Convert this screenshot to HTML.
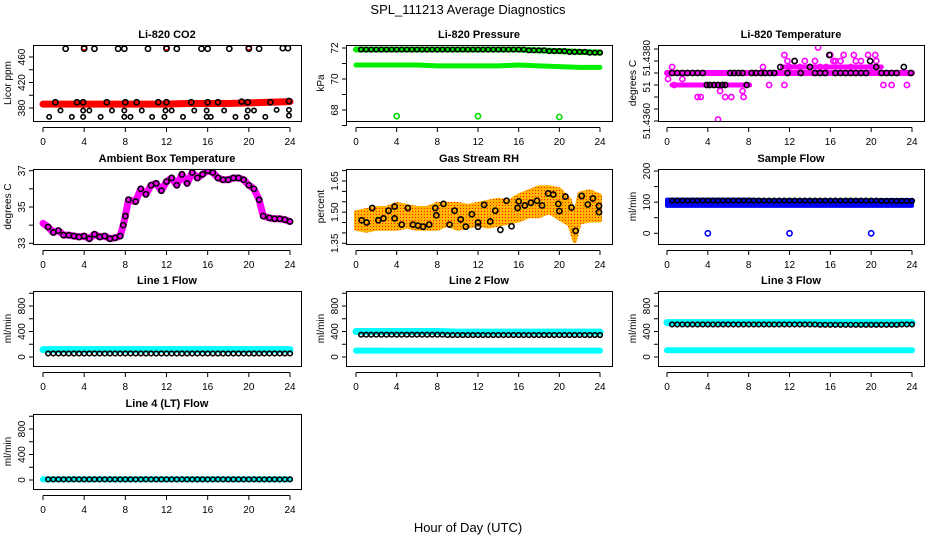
<!DOCTYPE html>
<html><head><meta charset="utf-8"><style>
html,body{margin:0;padding:0;background:#fff}
svg{display:block;font-family:"Liberation Sans",sans-serif}
</style></head><body>
<svg id="chart" width="936" height="540" viewBox="0 0 936 540" xmlns="http://www.w3.org/2000/svg">
<defs>
<pattern id="rhpat" width="3" height="3" patternUnits="userSpaceOnUse"><rect width="3" height="3" fill="#ffb400"/><rect x="1" y="1" width="1" height="1" fill="#ff2000"/></pattern>
</defs>
<text x="468" y="14" text-anchor="middle" font-size="13">SPL_111213  Average Diagnostics</text>
<text x="468" y="532" text-anchor="middle" font-size="13">Hour of Day (UTC)</text>
</svg>
<script>
// ---------- data ----------
const halfHours = [0.5,1,1.5,2,2.5,3,3.5,4,4.5,5,5.5,6,6.5,7,7.5,8,8.5,9,9.5,10,10.5,11,11.5,12,12.5,13,13.5,14,14.5,15,15.5,16,16.5,17,17.5,18,18.5,19,19.5,20,20.5,21,21.5,22,22.5,23,23.5,24];
const bandHours = [0,2,4,6,8,10,12,14,16,18,20,22,24];
const xTicks = [0,4,8,12,16,20,24];

// CO2
const co2Band = [386,386,386,386,386,386,386,387,387,387,388,389,390];
const co2TopT = [2.2,4,5,7.3,7.9,10.2,12,13,15.4,16,18.1,20,21,23.3,23.8];
const co2TopV = [473,473,473,473,473,473,473,473,473,473,473,473,473,474,474];
const co2MidT = [1.2,3.3,3.9,6.2,8,9.1,11.2,12,14.4,16,17,19.3,19.9,22.1,23.9];
const co2MidV = [389,389,389,389,389,389,389,389,389,389,389,390,389,389,391];
const co2LowT = [1.7,3.9,4.5,6.7,7.9,9.6,11.9,12.5,14.7,15.9,17.6,19.9,20.5,22.7,23.9,0.6,2.8,3.9,5.6,7.9,8.5,10.6,11.8,13.6,15.9,16.3,18.7,19.8,21.6,23.9];
const co2LowV = [376,376,376,376,376,376,376,376,376,376,376,376,376,377,377,366,366,366,366,366,366,366,366,366,366,366,366,366,366,368];
const co2RedT = [4,12,20];
const co2RedV = [475,475,475];

// Pressure
const presTop = [71.9,71.9,71.9,71.9,71.9,71.9,71.9,71.9,71.9,71.85,71.8,71.75,71.7];
const presLow = [70.9,70.9,70.9,70.9,70.85,70.85,70.85,70.85,70.9,70.85,70.8,70.75,70.75];
const presOutT = [4,12,20];
const presOutV = [67.6,67.6,67.55];

// Li-820 temperature
const tempMain = [51.4376,51.4376,51.4376,51.4376,51.4376,51.4376,51.4376,51.4376,51.4376,51.4376,51.4376,51.4376,51.4376];
const tempPtT = [0.1,0.5,0.7,1.5,3,3.3,5,5.2,5.7,6.3,7.4,7.5,9.4,10,11.5,11.5,12,13.5,14.8,15.6,16,16.3,17.3,18.3,19.7,20.4,21.2,22,23.5,11.8,13,14,15,17,18,19,20,12.5,14.5,16.5,18.5,20.5];
const tempPtV = [51.4374,51.4378,51.4372,51.4374,51.4368,51.4368,51.43605,51.437,51.4368,51.4368,51.437,51.4368,51.4378,51.4372,51.4382,51.4372,51.4378,51.438,51.43845,51.4378,51.4382,51.438,51.4382,51.4382,51.4382,51.4382,51.4372,51.4372,51.4372,51.438,51.4378,51.4378,51.4378,51.438,51.4378,51.438,51.4378,51.438,51.438,51.438,51.438,51.438];
const tempBlkT = [0.5,1,1.5,2,2.5,3,3.5,3.9,4.2,4.6,5,5.4,5.7,6.2,6.6,7,7.4,7.8,8.3,8.7,9.2,9.6,10.1,10.5,11.1,11.8,12.5,13.1,14,14.5,15,15.5,15.9,16.5,17,17.5,18,18.5,19,19.5,19.9,20.5,21,21.5,22,22.5,23.2,23.9];
const tempBlkV = [51.4376,51.4376,51.4376,51.4376,51.4376,51.4376,51.4376,51.4372,51.4372,51.4372,51.4372,51.4372,51.4372,51.4376,51.4376,51.4376,51.4376,51.4372,51.4376,51.4376,51.4376,51.4376,51.4376,51.4376,51.4378,51.4376,51.438,51.4376,51.4378,51.4376,51.4376,51.4376,51.4382,51.4376,51.4376,51.4376,51.4376,51.4376,51.4376,51.4376,51.438,51.4378,51.4376,51.4376,51.4376,51.4376,51.4378,51.4376];

// Ambient box temperature
const ambHours = [0,0.5,1,1.5,2,2.5,3,3.5,4,4.5,5,5.5,6,6.5,7,7.5,7.8,8,8.3,9,9.5,10,10.5,11,11.5,12,12.5,13,13.5,14,14.5,15,15.5,16,16.5,17,17.5,18,18.5,19,19.5,20,20.5,21,21.4,22,22.5,23,23.5,24];
const ambVals = [34.1,33.9,33.6,33.7,33.45,33.45,33.4,33.35,33.4,33.25,33.5,33.35,33.4,33.25,33.3,33.4,34.0,34.5,35.4,35.3,36.0,35.7,36.2,36.3,35.9,36.4,36.6,36.2,36.8,36.3,36.9,36.6,36.8,37.0,36.9,36.6,36.5,36.5,36.6,36.6,36.5,36.2,36.0,35.4,34.5,34.4,34.35,34.35,34.3,34.2];

// Gas stream RH
const rhHours = [0,1,2,3,4,5,6,7,8,9,10,11,12,13,14,15,16,17,18,19,20,21,21.5,22,23,24];
const rhMean = [1.46,1.46,1.47,1.47,1.48,1.48,1.47,1.47,1.48,1.49,1.48,1.48,1.49,1.49,1.5,1.5,1.52,1.54,1.55,1.56,1.54,1.5,1.42,1.52,1.53,1.52];
const rhSpread = [0.04,0.05,0.05,0.05,0.06,0.05,0.05,0.05,0.06,0.05,0.06,0.05,0.05,0.06,0.06,0.05,0.06,0.06,0.07,0.06,0.07,0.06,0.06,0.07,0.07,0.06];
const rhBlkT = [0.56,1.05,1.6,2.2,2.7,3.2,3.8,3.8,4.5,5.1,5.6,6.1,6.6,7.2,7.8,7.9,8.6,9.2,9.7,10.3,10.8,11.4,12,12,12.6,13.2,13.7,14.2,14.8,15.3,15.9,16,16.6,17.2,17.8,18.3,18.9,19.4,19.9,20,20.6,21.2,21.6,22.2,22.8,23.3,23.9,23.9];
const rhBlkV = [1.461,1.45,1.52,1.461,1.47,1.507,1.527,1.47,1.44,1.52,1.44,1.435,1.43,1.44,1.52,1.485,1.54,1.44,1.507,1.465,1.43,1.49,1.45,1.43,1.535,1.455,1.507,1.415,1.555,1.432,1.52,1.552,1.532,1.545,1.555,1.532,1.59,1.585,1.54,1.505,1.575,1.522,1.41,1.578,1.537,1.566,1.53,1.5];

// Sample flow
const sampleLow = [88,88,88,88,88,88,88,88,88,88,88,88,88];
const sampleHigh = [108,108,108,108,108,106,106,106,106,106,106,107,107];
const sampleBlk = [105,105,105,105,105,105,105,105,105,105,105,104,104];
const sampleOutT = [4,12,20];
const sampleOutV = [0,0,0];

// Line flows
const line1Cyan = [115,115,115,115,115,115,115,115,115,115,115,115,115];
const line1Blk = [55,55,55,55,55,55,55,55,55,55,55,55,55];
const line2CyanHi = [400,400,400,400,400,390,390,390,390,390,390,390,390];
const line2CyanLo = [100,100,100,100,100,100,100,100,100,100,100,100,100];
const line2Blk = [350,350,350,350,350,345,345,345,345,345,345,345,345];
const line3CyanHi = [540,540,540,540,540,540,540,540,540,540,540,540,540];
const line3CyanLo = [105,105,105,105,105,105,105,105,105,105,105,105,105];
const line3Blk = [510,510,510,510,510,510,510,510,505,505,505,505,510];
const line4Cyan = [10,10,10,10,10,10,10,10,10,10,10,10,10];
const line4Blk = [10,10,10,10,10,10,10,10,10,10,10,10,10];

// ---------- drawing ----------
const NS = 'http://www.w3.org/2000/svg';
const svg = document.getElementById('chart');
function el(tag, attrs, parent){ const e=document.createElementNS(NS,tag); for(const k in attrs) e.setAttribute(k,attrs[k]); (parent||svg).appendChild(e); return e; }

const cols = [{l:33,r:301,x0:43,x24:290},{l:346,r:612,x0:356,x24:600},{l:658,r:924,x0:667,x24:912}];
const rows = [{t:45,b:121},{t:169,b:244},{t:291,b:366},{t:414,b:489}];

function panel(name, title, ytitle, ci, ri, yv0, yp0, yv1, yp1, yTicks, yLabels){
  const c=cols[ci], r=rows[ri];
  const g = el('g',{});
  
  
  const sx = h => c.x0 + (h/24)*(c.x24-c.x0);
  const sy = v => yp0 + (v-yv0)/(yv1-yv0)*(yp1-yp0);
  const clipId = 'clip-'+name;
  const cp = el('clipPath',{id:clipId},g); el('rect',{x:c.l,y:r.t,width:c.r-c.l,height:r.b-r.t},cp);
  const plot = el('g',{'clip-path':'url(#'+clipId+')'},g);
  
  
  const t = el('text',{x:(c.l+c.r)/2,y:r.t-7,'text-anchor':'middle','font-size':'11','font-weight':'bold'},g);
  t.textContent = title;
  
  
  const box = el('rect',{x:c.l+0.5,y:r.t+0.5,width:c.r-c.l,height:r.b-r.t,fill:'none',stroke:'#000','stroke-width':1},g);
  
  
  const xa = el('g',{},g);
  
  
  el('line',{x1:sx(xTicks[0]),x2:sx(xTicks[xTicks.length-1]),y1:r.b+6.5,y2:r.b+6.5,stroke:'#000'},xa);
  xTicks.forEach(v=>{ el('line',{x1:sx(v),x2:sx(v),y1:r.b+6.5,y2:r.b+11,stroke:'#000'},xa);
    const tl=el('text',{x:sx(v),y:r.b+24,'text-anchor':'middle','font-size':'10'},xa); tl.textContent=v;
      });
  const ya = el('g',{},g);
  
  
  const ax = c.l+0.5;
  el('line',{x1:ax,x2:ax,y1:sy(yTicks[0]),y2:sy(yTicks[yTicks.length-1]),stroke:'#000'},ya);
  yTicks.forEach(v=>el('line',{x1:ax-4.5,x2:ax,y1:sy(v),y2:sy(v),stroke:'#000'},ya));
  yLabels.forEach(([v,s,off])=>{ const yy=sy(v)+(off||0), lx=c.l-8; const tl=el('text',{x:lx,y:yy,'text-anchor':'middle','font-size':'10',transform:`rotate(-90 ${lx} ${yy})`},ya); tl.textContent=s;
      });
  const ytx = c.l-22, yty=(r.t+r.b)/2;
  const yt = el('text',{x:ytx,y:yty,'text-anchor':'middle','font-size':'10',transform:`rotate(-90 ${ytx} ${yty})`},g);
  yt.textContent = ytitle;
  
  
  return {sx,sy,plot};
}
function band(P, xs, ys, color, w, nm){
  const l = el('polyline',{points:xs.map((x,i)=>P.sx(x)+','+P.sy(ys[i])).join(' '),fill:'none',stroke:color,'stroke-width':w,'stroke-linejoin':'round','stroke-linecap':'round'},P.plot);
  
  
}
function pts(P, xs, ys, color, nm, r){
  xs.forEach((x,i)=>{ const c=el('circle',{cx:P.sx(x),cy:P.sy(ys[i]),r:r||2.6,fill:'none',stroke:color,'stroke-width':1.6},P.plot);
    
     });
}
function areaBand(P, xs, lo, hi, fill, nm){
  const up = xs.map((x,i)=>P.sx(x)+','+P.sy(hi[i]));
  const dn = xs.map((x,i)=>P.sx(x)+','+P.sy(lo[i])).reverse();
  const p = el('polygon',{points:up.concat(dn).join(' '),fill:fill,stroke:fill,'stroke-width':4,'stroke-linejoin':'round'},P.plot);
  
  
}
function flatAt(arr, hours){ return hours.map(h=>{ const i=Math.min(12,Math.round(h/2)); return arr[i]; }); }

// CO2
let P = panel('co2','Li-820 CO2','Licor ppm',0,0,460,57,380,108,[380,400,420,440,460],[[380,'380'],[420,'420'],[460,'460']]);
band(P,bandHours,co2Band,'#ff0000',7,'co2-raw-band');
pts(P,co2RedT,co2RedV,'#ff0000','co2-raw-point');
pts(P,co2TopT,co2TopV,'#000','co2-avg-point');
pts(P,co2MidT,co2MidV,'#000','co2-avg-point');
pts(P,co2LowT,co2LowV,'#000','co2-avg-point',2.2);

// Pressure
P = panel('pressure','Li-820 Pressure','kPa',1,0,72,48,68,110,[67,68,69,70,71,72],[[68,'68'],[70,'70'],[72,'72']]);
band(P,bandHours,presTop,'#00ee00',6,'pressure-raw-band-high');
band(P,bandHours,presLow,'#00ee00',5,'pressure-raw-band-low');
pts(P,presOutT,presOutV,'#00dd00','pressure-outlier');
pts(P,halfHours,flatAt(presTop,halfHours),'#000','pressure-avg-point',2.3);

// Li-820 temperature
P = panel('li820-temp','Li-820 Temperature','degrees C',2,0,51.4360,121,51.4380,61,[51.4360,51.4364,51.4368,51.4372,51.4376,51.4380,51.4384],[[51.4360,'51.4360'],[51.4372,'51',2],[51.4380,'51.4380',-3]]);
band(P,bandHours,tempMain,'#ff00ff',6,'temp-raw-band');
band(P,[0.5,3.6],[51.4372,51.4372],'#ff00ff',5,'temp-raw-band-low');
band(P,[3.9,8.1],[51.4372,51.4372],'#ff00ff',5,'temp-raw-band-low');
band(P,[11.3,21],[51.4378,51.4378],'#ff00ff',5,'temp-raw-band-high');
pts(P,tempPtT,tempPtV,'#ff00ff','temp-raw-point');
pts(P,tempBlkT,tempBlkV,'#000','temp-avg-point');

// Ambient
P = panel('ambient','Ambient Box Temperature','degrees C',0,1,37,170.7,33,243.3,[33,34,35,36,37],[[33,'33'],[35,'35'],[37,'37']]);
band(P,ambHours,ambVals,'#ff00ff',7,'ambient-raw-band');
pts(P,ambHours.slice(1),ambVals.slice(1),'#000','ambient-avg-point');

// RH
P = panel('rh','Gas Stream RH','percent',1,1,1.35,243.3,1.65,181,[1.35,1.40,1.45,1.50,1.55,1.60,1.65,1.70],[[1.35,'1.35'],[1.50,'1.50'],[1.65,'1.65']]);
areaBand(P,rhHours,rhMean.map((m,i)=>m-rhSpread[i]),rhMean.map((m,i)=>m+rhSpread[i]),'url(#rhpat)','rh-raw-cloud');
pts(P,rhBlkT,rhBlkV,'#000','rh-avg-point');

// Sample flow
P = panel('sample-flow','Sample Flow','ml/min',2,1,0,233.3,200,171,[0,50,100,150,200],[[0,'0'],[100,'100'],[200,'200']]);
areaBand(P,bandHours,sampleLow,sampleHigh,'#0000ff','sample-raw-band');
pts(P,sampleOutT,sampleOutV,'#0000ff','sample-outlier');
pts(P,halfHours,flatAt(sampleBlk,halfHours),'#000','sample-avg-point',2.3);

// Line flows
const flowTicks=[0,200,400,600,800,1000], flowLabels=[[0,'0'],[400,'400'],[800,'800']];
P = panel('line1','Line 1 Flow','ml/min',0,2,0,357,800,306,flowTicks,flowLabels);
band(P,bandHours,line1Cyan,'#00ffff',7,'line1-raw-band');
pts(P,halfHours,flatAt(line1Blk,halfHours),'#000','line1-avg-point',2.3);

P = panel('line2','Line 2 Flow','ml/min',1,2,0,357,800,306,flowTicks,flowLabels);
band(P,bandHours,line2CyanHi,'#00ffff',7,'line2-raw-band-high');
band(P,bandHours,line2CyanLo,'#00ffff',6,'line2-raw-band-low');
pts(P,halfHours,flatAt(line2Blk,halfHours),'#000','line2-avg-point',2.3);

P = panel('line3','Line 3 Flow','ml/min',2,2,0,357,800,306,flowTicks,flowLabels);
band(P,bandHours,line3CyanHi,'#00ffff',7,'line3-raw-band-high');
band(P,bandHours,line3CyanLo,'#00ffff',6,'line3-raw-band-low');
pts(P,halfHours,flatAt(line3Blk,halfHours),'#000','line3-avg-point',2.3);

P = panel('line4','Line 4 (LT) Flow','ml/min',0,3,0,480,800,429,flowTicks,flowLabels);
band(P,bandHours,line4Cyan,'#00ffff',6,'line4-raw-band');
pts(P,halfHours,flatAt(line4Blk,halfHours),'#000','line4-avg-point',2.3);
</script>
</body></html>
